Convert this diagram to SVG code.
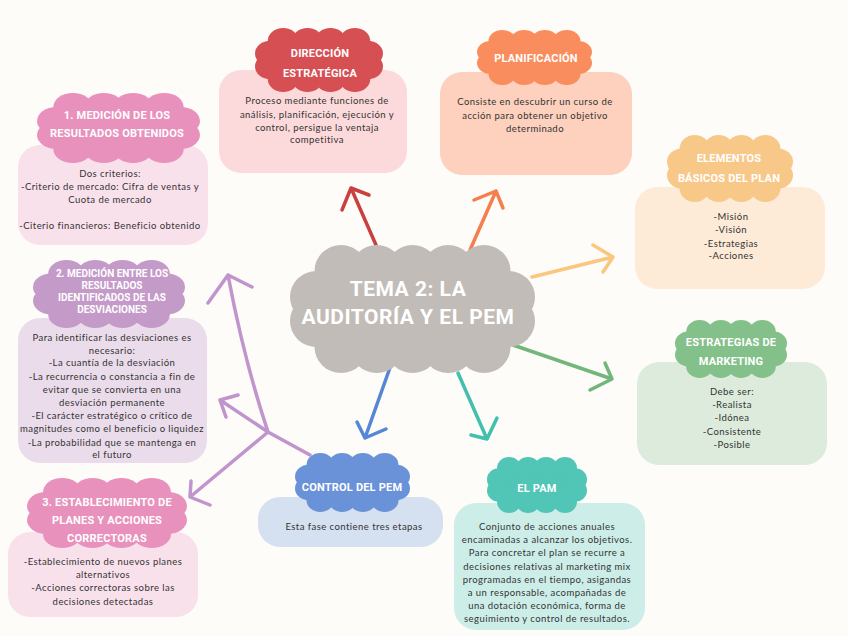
<svg xmlns="http://www.w3.org/2000/svg" xmlns:xlink="http://www.w3.org/1999/xlink" width="848" height="636" viewBox="0 0 848 636">
<style>
.h{font-family:Roboto,"DejaVu Sans",sans-serif;font-weight:bold;font-size:11px;fill:#fff;text-anchor:middle;letter-spacing:0.2px}
.hs{font-size:10px;letter-spacing:0}
.t{font-family:Roboto,"DejaVu Sans",sans-serif;font-weight:bold;font-size:21px;fill:#fff;text-anchor:middle;letter-spacing:0.5px}
.b{font-family:Lato,"Noto Sans",sans-serif;font-size:9.5px;fill:#333;text-anchor:middle;letter-spacing:0.45px}
.c{fill:none;stroke-width:3.5;stroke-linecap:round;stroke-linejoin:round}
</style>
<defs>
<g id="cloud">
<rect x="12" y="12" width="76" height="36"/>
<circle cx="22" cy="12" r="12"/><circle cx="41" cy="12" r="12"/><circle cx="59" cy="12" r="12"/><circle cx="78" cy="12" r="12"/>
<circle cx="22" cy="48" r="12"/><circle cx="41" cy="48" r="12"/><circle cx="59" cy="48" r="12"/><circle cx="78" cy="48" r="12"/>
<circle cx="12" cy="24" r="12"/><circle cx="12" cy="36" r="12"/><circle cx="88" cy="24" r="12"/><circle cx="88" cy="36" r="12"/>
</g>
<g id="cloud5">
<rect x="15" y="15" width="90" height="34"/>
<circle cx="25" cy="13" r="13"/><circle cx="42.5" cy="13" r="13"/><circle cx="60" cy="13" r="13"/><circle cx="77.5" cy="13" r="13"/><circle cx="95" cy="13" r="13"/>
<circle cx="25" cy="51" r="13"/><circle cx="42.5" cy="51" r="13"/><circle cx="60" cy="51" r="13"/><circle cx="77.5" cy="51" r="13"/><circle cx="95" cy="51" r="13"/>
<circle cx="13" cy="26" r="13"/><circle cx="13" cy="38" r="13"/><circle cx="107" cy="26" r="13"/><circle cx="107" cy="38" r="13"/>
</g>
</defs>
<rect width="848" height="636" fill="#fdfcf8"/>

<g id="connectors">
<path class="c" stroke="#c9413f" d="M376,245 L351,188 M342,210 L351,188 L369,195"/>
<path class="c" stroke="#f47e4c" d="M470,250 L496,191 M474,200 L496,191 L503,208"/>
<path class="c" stroke="#fbc77f" d="M532,277 L613,257 M593,245 L613,257 L603,272"/>
<path class="c" stroke="#72b67a" d="M513,345 L612,379 M605,363 L612,379 L590,390"/>
<path class="c" stroke="#5686d6" d="M392,362 L365,438 M357,422 L365,438 L386,429"/>
<path class="c" stroke="#43bfae" d="M458,373 L487,439 M471,435 L487,439 L497,418"/>
<path class="c" stroke="#c094cc" d="M310,455 L268,432 Q244,360 228,275 M208,303 L228,275 L252,287 M268,432 L220,400 M238,395 L220,400 L226,417 M268,432 L190,497 M191,481 L190,497 L210,505"/>
</g>

<g id="center">
<use xlink:href="#cloud5" transform="translate(290,245) scale(2.042,2)" fill="#c2bcb8"/>
<text class="t" x="408" y="296">TEMA 2: LA</text>
<text class="t" x="408" y="324">AUDITORÍA Y EL PEM</text>
</g>

<g id="n1">
<rect x="18" y="145" width="190" height="100" rx="22" fill="#f9e1ec"/>
<use xlink:href="#cloud" transform="translate(37,93) scale(1.63,1.167)" fill="#e891bd"/>
<text class="h" x="117" y="119">1. MEDICIÓN DE LOS</text>
<text class="h" x="117" y="137">RESULTADOS OBTENIDOS</text>
<text class="b" x="110" y="177">Dos criterios:</text>
<text class="b" x="110" y="190">-Criterio de mercado: Cifra de ventas y</text>
<text class="b" x="110" y="203">Cuota de mercado</text>
<text class="b" x="110" y="229">-Citerio financieros: Beneficio obtenido</text>
</g>

<g id="n2">
<rect x="18" y="318" width="189" height="145" rx="22" fill="#eadcea"/>
<use xlink:href="#cloud" transform="translate(33,260) scale(1.52,1.133)" fill="#c49ac9"/>
<text class="h hs" x="112" y="277">2. MEDICIÓN ENTRE LOS</text>
<text class="h hs" x="112" y="289">RESULTADOS</text>
<text class="h hs" x="112" y="301">IDENTIFICADOS DE LAS</text>
<text class="h hs" x="112" y="313">DESVIACIONES</text>
<text class="b" x="112" y="341">Para identificar las desviaciones es</text>
<text class="b" x="112" y="354">necesario:</text>
<text class="b" x="112" y="366">-La cuantía de la desviación</text>
<text class="b" x="112" y="380">-La recurrencia o constancia a fin de</text>
<text class="b" x="112" y="393">evitar que se convierta en una</text>
<text class="b" x="112" y="406">desviación permanente</text>
<text class="b" x="112" y="419">-El carácter estratégico o crítico de</text>
<text class="b" x="112" y="432">magnitudes como el beneficio o liquidez</text>
<text class="b" x="112" y="446">-La probabilidad que se mantenga en</text>
<text class="b" x="112" y="458">el futuro</text>
</g>

<g id="n3">
<rect x="8" y="532" width="190" height="85" rx="22" fill="#f9e1ec"/>
<use xlink:href="#cloud" transform="translate(27,478) scale(1.6,1.167)" fill="#e891bd"/>
<text class="h" x="107" y="506">3. ESTABLECIMIENTO DE</text>
<text class="h" x="107" y="524">PLANES Y ACCIONES</text>
<text class="h" x="107" y="542">CORRECTORAS</text>
<text class="b" x="103" y="565">-Establecimiento de nuevos planes</text>
<text class="b" x="103" y="578">alternativos</text>
<text class="b" x="103" y="591">-Acciones correctoras sobre las</text>
<text class="b" x="103" y="605">decisiones detectadas</text>
</g>

<g id="direccion">
<rect x="219" y="70" width="188" height="103" rx="22" fill="#fcdadb"/>
<use xlink:href="#cloud" transform="translate(255,28) scale(1.28,1.067)" fill="#d64f53"/>
<text class="h" x="320" y="57">DIRECCIÓN</text>
<text class="h" x="320" y="77">ESTRATÉGICA</text>
<text class="b" x="317" y="104">Proceso mediante funciones de</text>
<text class="b" x="317" y="118">análisis, planificación, ejecución y</text>
<text class="b" x="317" y="131">control, persigue la ventaja</text>
<text class="b" x="317" y="143">competitiva</text>
</g>

<g id="planificacion">
<rect x="440" y="72" width="192" height="103" rx="22" fill="#fdd1bd"/>
<use xlink:href="#cloud" transform="translate(477,30) scale(1.15,0.917)" fill="#f98d5e"/>
<text class="h" x="536" y="62">PLANIFICACIÓN</text>
<text class="b" x="535" y="105">Consiste en descubrir un curso de</text>
<text class="b" x="535" y="119">acción para obtener un objetivo</text>
<text class="b" x="535" y="132">determinado</text>
</g>

<g id="elementos">
<rect x="635" y="187" width="190" height="102" rx="22" fill="#fdebd8"/>
<use xlink:href="#cloud" transform="translate(667,135) scale(1.26,1.117)" fill="#f8c889"/>
<text class="h" x="729" y="162">ELEMENTOS</text>
<text class="h" x="729" y="182">BÁSICOS DEL PLAN</text>
<text class="b" x="731" y="220">-Misión</text>
<text class="b" x="731" y="233">-Visión</text>
<text class="b" x="731" y="247">-Estrategias</text>
<text class="b" x="731" y="259">-Acciones</text>
</g>

<g id="estrategias">
<rect x="637" y="362" width="190" height="103" rx="22" fill="#dcebdc"/>
<use xlink:href="#cloud" transform="translate(675,320) scale(1.12,0.967)" fill="#84c089"/>
<text class="h" x="731" y="346">ESTRATEGIAS DE</text>
<text class="h" x="731" y="365">MARKETING</text>
<text class="b" x="732" y="395">Debe ser:</text>
<text class="b" x="732" y="408">-Realista</text>
<text class="b" x="732" y="421">-Idónea</text>
<text class="b" x="732" y="435">-Consistente</text>
<text class="b" x="732" y="448">-Posible</text>
</g>

<g id="control">
<rect x="258" y="497" width="185" height="50" rx="22" fill="#d5e0f1"/>
<use xlink:href="#cloud" transform="translate(295,453) scale(1.15,0.983)" fill="#6a92d8"/>
<text class="h" x="352" y="491">CONTROL DEL PEM</text>
<text class="b" x="354" y="530">Esta fase contiene tres etapas</text>
</g>

<g id="pam">
<rect x="454" y="503" width="191" height="127" rx="22" fill="#cdeee8"/>
<use xlink:href="#cloud" transform="translate(487,457) scale(1,0.933)" fill="#51c5b6"/>
<text class="h" x="537" y="492">EL PAM</text>
<text class="b" x="547" y="530">Conjunto de acciones anuales</text>
<text class="b" x="547" y="543">encaminadas a alcanzar los objetivos.</text>
<text class="b" x="547" y="556">Para concretar el plan se recurre a</text>
<text class="b" x="547" y="570">decisiones relativas al marketing mix</text>
<text class="b" x="547" y="583">programadas en el tiempo, asigandas</text>
<text class="b" x="547" y="596">a un responsable, acompañadas de</text>
<text class="b" x="547" y="609">una dotación económica, forma de</text>
<text class="b" x="547" y="622">seguimiento y control de resultados.</text>
</g>
</svg>
